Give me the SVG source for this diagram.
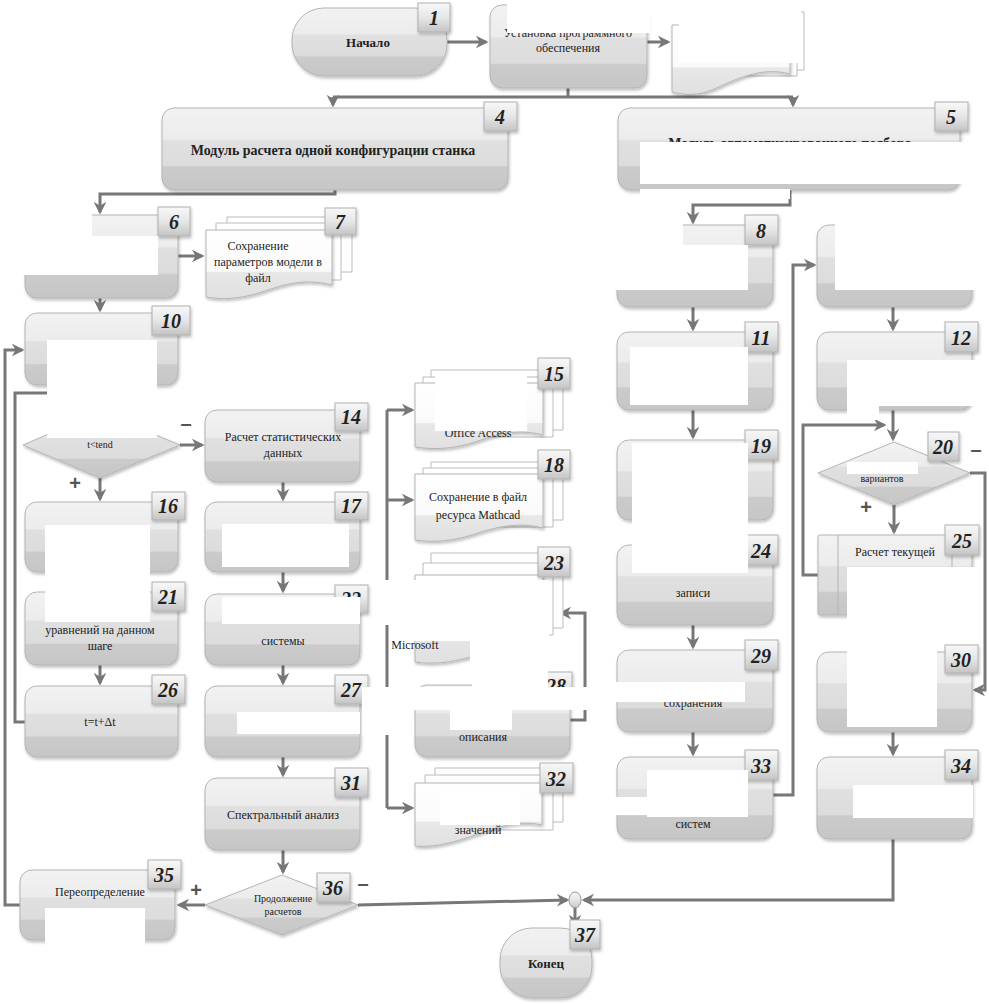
<svg xmlns="http://www.w3.org/2000/svg" width="989" height="1004" viewBox="0 0 989 1004">
<defs>
<linearGradient id="gn" x1="0" y1="0" x2="0" y2="1">
<stop offset="0" stop-color="#f2f2f2"/><stop offset="0.38" stop-color="#ececec"/><stop offset="0.4" stop-color="#e0e0e0"/><stop offset="0.7" stop-color="#dcdcdc"/><stop offset="0.72" stop-color="#cbcbcb"/><stop offset="1" stop-color="#c6c6c6"/>
</linearGradient>
<linearGradient id="gb" x1="0" y1="0" x2="0" y2="1">
<stop offset="0" stop-color="#f8f8f8"/><stop offset="0.5" stop-color="#e6e6e6"/><stop offset="1" stop-color="#c4c4c4"/>
</linearGradient>
<linearGradient id="gd" x1="0" y1="0" x2="0" y2="1">
<stop offset="0" stop-color="#ffffff"/><stop offset="0.6" stop-color="#fafafa"/><stop offset="0.62" stop-color="#e8e8e8"/><stop offset="1" stop-color="#e0e0e0"/>
</linearGradient>
<marker id="ar" viewBox="0 0 10 10" refX="8" refY="5" markerWidth="4.2" markerHeight="4.2" orient="auto" markerUnits="strokeWidth">
<path d="M0,0 L10,5 L0,10 L3,5 Z" fill="#777"/>
</marker>
<filter id="sh" x="-10%" y="-10%" width="130%" height="130%"><feDropShadow dx="1" dy="2" stdDeviation="1.5" flood-color="#000" flood-opacity="0.25"/></filter>
</defs>
<style>
.n{fill:url(#gn);stroke:#b4b4b4;stroke-width:1;filter:url(#sh)}
.b{fill:url(#gb);stroke:#b0b0b0;stroke-width:1;filter:url(#sh)}
.bt{font-family:"Liberation Serif","DejaVu Serif",serif;font-weight:bold;font-style:italic;font-size:20px;fill:#222;text-anchor:middle}
.t{font-family:"Liberation Serif","DejaVu Serif",serif;font-size:12px;fill:#222;text-anchor:middle}
.tb{font-family:"Liberation Serif","DejaVu Serif",serif;font-size:13px;font-weight:bold;fill:#222;text-anchor:middle}
.tl{font-family:"Liberation Serif","DejaVu Serif",serif;font-size:14px;font-weight:bold;fill:#222;text-anchor:middle}
.ts{font-family:"Liberation Serif","DejaVu Serif",serif;font-size:10px;fill:#222;text-anchor:middle}
.pm{font-family:"Liberation Sans",sans-serif;font-size:20px;font-weight:bold;fill:#555;text-anchor:middle}
.s{fill:#fff;stroke:#bbb;stroke-width:1}
.d{fill:url(#gd);stroke:#b4b4b4;stroke-width:1;filter:url(#sh)}
.c{fill:none;stroke:#777;stroke-width:3}
.m{fill:#fff}
</style>

<g id="connectors">
<path class="c" d="M447,42 H486" marker-end="url(#ar)"/>
<path class="c" d="M647,42 H668" marker-end="url(#ar)"/>
<path class="c" d="M568,88 V97"/>
<path class="c" d="M333,97 H793"/>
<path class="c" d="M333,97 V105" marker-end="url(#ar)"/>
<path class="c" d="M793,97 V105" marker-end="url(#ar)"/>
<path class="c" d="M335,190 V194 H100 V212" marker-end="url(#ar)"/>
<path class="c" d="M790,190 V205 H693 V222" marker-end="url(#ar)"/>
<path class="c" d="M178,256 H202" marker-end="url(#ar)"/>
<path class="c" d="M100,298 V310" marker-end="url(#ar)"/>
<path class="c" d="M20,905 H5 V350 H22" marker-end="url(#ar)"/>
<path class="c" d="M25,722 H15 V393 H50"/>
<path class="c" d="M180,445 H202" marker-end="url(#ar)"/>
<path class="c" d="M100,478 V499" marker-end="url(#ar)"/>
<path class="c" d="M283,482 V499" marker-end="url(#ar)"/>
<path class="c" d="M100,572 V589" marker-end="url(#ar)"/>
<path class="c" d="M283,572 V591" marker-end="url(#ar)"/>
<path class="c" d="M100,665 V683" marker-end="url(#ar)"/>
<path class="c" d="M283,665 V683" marker-end="url(#ar)"/>
<path class="c" d="M283,757 V775" marker-end="url(#ar)"/>
<path class="c" d="M283,850 V872" marker-end="url(#ar)"/>
<path class="c" d="M205,905 H179" marker-end="url(#ar)"/>
<path class="c" d="M358,905 L567,900" marker-end="url(#ar)"/>
<path class="c" d="M893,838 V900 H584" marker-end="url(#ar)"/>
<path class="c" d="M575,907 V925" marker-end="url(#ar)"/>
<path class="c" d="M387,410 V808"/>
<path class="c" d="M387,410 H412" marker-end="url(#ar)"/>
<path class="c" d="M387,500 H412" marker-end="url(#ar)"/>
<path class="c" d="M387,808 H412" marker-end="url(#ar)"/>
<path class="c" d="M570,720 H585 V613 H561" marker-end="url(#ar)"/>
<path class="c" d="M693,307 V329" marker-end="url(#ar)"/>
<path class="c" d="M693,410 V437" marker-end="url(#ar)"/>
<path class="c" d="M693,520 V542" marker-end="url(#ar)"/>
<path class="c" d="M693,625 V647" marker-end="url(#ar)"/>
<path class="c" d="M693,732 V754" marker-end="url(#ar)"/>
<path class="c" d="M773,795 H793 V265 H814" marker-end="url(#ar)"/>
<path class="c" d="M893,307 V329" marker-end="url(#ar)"/>
<path class="c" d="M893,410 V439" marker-end="url(#ar)"/>
<path class="c" d="M818,575 H803 V425 H884" marker-end="url(#ar)"/>
<path class="c" d="M894,505 V532" marker-end="url(#ar)"/>
<path class="c" d="M970,473 H985 V690 H975" marker-end="url(#ar)"/>
<path class="c" d="M893,732 V754" marker-end="url(#ar)"/>
<rect x="683" y="185" width="152" height="4" fill="#888"/>
</g>

<g id="n1"><rect class="n" x="292" y="8" width="155" height="68" rx="32"/><rect class="b" x="418" y="3" width="32" height="29"/><text class="bt" x="434" y="25">1</text><text class="tb" x="368" y="47">Начало</text></g>
<g id="n2"><rect class="n" x="490" y="5" width="157" height="83" rx="12"/><text class="t" x="568" y="37">Установка программного</text><text class="t" x="568" y="52">обеспечения</text></g>
<g id="n3"><path class="s" d="M690,12 H804 V70 H690 Z"/><path class="s" d="M681,18 H797 V76 H681 Z"/><path class="d" d="M672,25 H790 V74 C760,66 735,80 712,90 C697,96 684,95 672,92 Z"/></g>
<g id="n4"><rect class="n" x="162" y="108" width="346" height="82" rx="12"/><rect class="b" x="484" y="102" width="33" height="29"/><text class="bt" x="500" y="124">4</text><text class="tl" x="333" y="155">Модуль расчета одной конфигурации станка</text></g>
<g id="n5"><rect class="n" x="618" y="108" width="342" height="82" rx="12"/><rect class="b" x="935" y="102" width="33" height="29"/><text class="bt" x="951" y="124">5</text><text class="tl" x="790" y="148">Модуль автоматизированного подбора</text></g>
<g id="n6"><rect class="n" x="25" y="215" width="153" height="83" rx="12"/><rect class="b" x="158" y="207" width="32" height="29"/><text class="bt" x="174" y="229">6</text></g>
<g id="n7"><path class="s" d="M227,217 H352 V272 H227 Z"/><path class="s" d="M216,223 H341 V280 H216 Z"/><path class="d" d="M206,230 H332 V285 C305,278 285,284 262,292 C240,299 222,300 206,297 Z"/><rect class="b" x="325" y="208" width="31" height="27"/><text class="bt" x="340" y="229">7</text><text class="t" x="258" y="250">Сохранение</text><text class="t" x="268" y="266">параметров модели в</text><text class="t" x="258" y="282">файл</text></g>
<g id="n10"><rect class="n" x="25" y="313" width="153" height="72" rx="12"/><rect class="b" x="152" y="306" width="38" height="29"/><text class="bt" x="171" y="328">10</text></g>
<g id="n13"><path class="n" d="M23,445 L100,412 L180,445 L100,478 Z"/><text class="ts" x="100" y="448">t&lt;tend</text></g>
<g id="n14"><rect class="n" x="205" y="410" width="155" height="72" rx="12"/><rect class="b" x="335" y="403" width="33" height="28"/><text class="bt" x="351" y="424">14</text><text class="t" x="283" y="441">Расчет статистических</text><text class="t" x="283" y="457">данных</text></g>
<g id="n15"><path class="s" d="M431,370 H563 V430 H431 Z"/><path class="s" d="M423,377 H553 V437 H423 Z"/><path class="d" d="M415,383 H543 V435 C520,429 500,433 478,441 C455,449 435,450 415,447 Z"/><rect class="b" x="538" y="358" width="32" height="31"/><text class="bt" x="554" y="381">15</text><text class="t" x="478" y="437">Office Access</text></g>
<g id="n16"><rect class="n" x="25" y="502" width="153" height="70" rx="12"/><rect class="b" x="152" y="492" width="33" height="28"/><text class="bt" x="168" y="513">16</text></g>
<g id="n17"><rect class="n" x="205" y="502" width="155" height="70" rx="12"/><rect class="b" x="335" y="492" width="33" height="28"/><text class="bt" x="351" y="513">17</text></g>
<g id="n18"><path class="s" d="M431,462 H563 V520 H431 Z"/><path class="s" d="M423,468 H553 V527 H423 Z"/><path class="d" d="M415,474 H543 V528 C520,522 500,526 478,533 C455,541 435,543 415,540 Z"/><rect class="b" x="538" y="450" width="32" height="29"/><text class="bt" x="554" y="472">18</text><text class="t" x="478" y="501">Сохранение в файл</text><text class="t" x="478" y="519">ресурса Mathcad</text></g>
<g id="n23"><path class="s" d="M431,553 H563 V628 H431 Z"/><path class="s" d="M423,563 H553 V635 H423 Z"/><path class="d" d="M415,575 H543 V650 C520,645 500,649 478,655 C455,662 435,665 415,662 Z"/><rect class="b" x="538" y="547" width="32" height="30"/><text class="bt" x="554" y="570">23</text><text class="t" x="415" y="649" text-anchor="start">Microsoft</text></g>
<g id="n21"><rect class="n" x="25" y="592" width="153" height="73" rx="12"/><rect class="b" x="152" y="582" width="33" height="29"/><text class="bt" x="168" y="604">21</text><text class="t" x="100" y="634">уравнений на данном</text><text class="t" x="100" y="650">шаге</text></g>
<g id="n22"><rect class="n" x="205" y="594" width="155" height="71" rx="12"/><rect class="b" x="335" y="585" width="33" height="28"/><text class="bt" x="351" y="606">22</text><text class="t" x="283" y="645">системы</text></g>
<g id="n26"><rect class="n" x="25" y="686" width="153" height="71" rx="12"/><rect class="b" x="152" y="675" width="33" height="29"/><text class="bt" x="168" y="697">26</text><text class="t" x="100" y="726">t=t+Δt</text></g>
<g id="n27"><rect class="n" x="205" y="686" width="155" height="71" rx="12"/><rect class="b" x="335" y="675" width="33" height="29"/><text class="bt" x="351" y="697">27</text></g>
<g id="n28"><rect class="n" x="415" y="685" width="155" height="72" rx="12"/><rect class="b" x="540" y="672" width="32" height="28"/><text class="bt" x="556" y="693">28</text><text class="t" x="483" y="741">описания</text></g>
<g id="n31"><rect class="n" x="205" y="778" width="155" height="72" rx="12"/><rect class="b" x="335" y="768" width="33" height="29"/><text class="bt" x="351" y="790">31</text><text class="t" x="283" y="819">Спектральный анализ</text></g>
<g id="n32"><path class="s" d="M435,768 H563 V822 H435 Z"/><path class="s" d="M425,775 H553 V830 H425 Z"/><path class="d" d="M415,783 H542 V825 C520,820 500,826 478,834 C455,842 435,848 415,846 Z"/><rect class="b" x="540" y="763" width="33" height="30"/><text class="bt" x="556" y="786">32</text><text class="t" x="478" y="834">значений</text></g>
<g id="n35"><rect class="n" x="20" y="870" width="155" height="70" rx="12"/><rect class="b" x="148" y="860" width="33" height="29"/><text class="bt" x="164" y="882">35</text><text class="t" x="100" y="896">Переопределение</text></g>
<g id="n36"><path class="n" d="M205,905 L282,875 L358,905 L282,935 Z"/><rect class="b" x="317" y="873" width="33" height="29"/><text class="bt" x="333" y="895">36</text><text class="ts" x="283" y="902">Продолжение</text><text class="ts" x="283" y="915">расчетов</text></g>
<g id="n37"><rect class="n" x="500" y="928" width="92" height="70" rx="32"/><rect class="b" x="570" y="920" width="30" height="29"/><text class="bt" x="585" y="942">37</text><text class="tb" x="546" y="968">Конец</text></g>
<g id="merge"><ellipse cx="575" cy="900" rx="6" ry="8" fill="url(#gb)" stroke="#999"/></g>
<g id="n8"><rect class="n" x="617" y="225" width="156" height="82" rx="12"/><rect class="b" x="745" y="215" width="33" height="30"/><text class="bt" x="761" y="238">8</text></g>
<g id="n9"><rect class="n" x="817" y="225" width="155" height="82" rx="12"/></g>
<g id="n11"><rect class="n" x="617" y="332" width="156" height="78" rx="12"/><rect class="b" x="745" y="322" width="33" height="30"/><text class="bt" x="761" y="345">11</text></g>
<g id="n12"><rect class="n" x="817" y="332" width="155" height="78" rx="12"/><rect class="b" x="945" y="322" width="33" height="30"/><text class="bt" x="961" y="345">12</text></g>
<g id="n19"><rect class="n" x="617" y="440" width="156" height="80" rx="12"/><rect class="b" x="745" y="430" width="33" height="30"/><text class="bt" x="761" y="453">19</text></g>
<g id="n20"><path class="n" d="M818,473 L894,442 L970,473 L894,505 Z"/><rect class="b" x="928" y="432" width="31" height="29"/><text class="bt" x="943" y="454">20</text></g>
<g id="n24"><rect class="n" x="617" y="545" width="156" height="80" rx="12"/><rect class="b" x="745" y="535" width="33" height="30"/><text class="bt" x="761" y="558">24</text><text class="t" x="693" y="597">записи</text></g>
<g id="n25"><rect class="n" x="818" y="535" width="154" height="80" rx="2"/><path d="M838,535 V615 M952,535 V615" stroke="#b4b4b4" fill="none"/><rect class="b" x="945" y="525" width="34" height="30"/><text class="bt" x="962" y="548">25</text><text class="t" x="895" y="556">Расчет текущей</text></g>
<g id="n29"><rect class="n" x="617" y="650" width="156" height="82" rx="12"/><rect class="b" x="745" y="640" width="33" height="30"/><text class="bt" x="761" y="663">29</text><text class="t" x="693" y="707">сохранения</text></g>
<g id="n30"><rect class="n" x="817" y="652" width="155" height="80" rx="12"/><rect class="b" x="945" y="645" width="33" height="28"/><text class="bt" x="961" y="667">30</text></g>
<g id="n33"><rect class="n" x="617" y="757" width="156" height="82" rx="12"/><rect class="b" x="745" y="750" width="33" height="30"/><text class="bt" x="761" y="773">33</text><text class="t" x="693" y="828">систем</text></g>
<g id="n34"><rect class="n" x="817" y="757" width="155" height="82" rx="12"/><rect class="b" x="945" y="750" width="33" height="30"/><text class="bt" x="961" y="773">34</text></g>

<g id="labels">
<text class="pm" x="186" y="430">–</text>
<text class="pm" x="75" y="490">+</text>
<text class="pm" x="976" y="456">–</text>
<text class="pm" x="866" y="514">+</text>
<text class="pm" x="196" y="897">+</text>
<text class="pm" x="363" y="890">–</text>
</g>

<g id="masks">
<rect class="m" x="507" y="0" width="143" height="33"/>
<rect class="m" x="679" y="0" width="122" height="63"/>
<rect class="m" x="640" y="142" width="325" height="42"/>
<rect class="m" x="640" y="189" width="150" height="10"/>
<rect class="m" x="18" y="200" width="74" height="75"/>
<rect class="m" x="92" y="236" width="66" height="39"/>
<rect class="m" x="47" y="340" width="110" height="98"/>
<rect class="m" x="45" y="525" width="105" height="97"/>
<rect class="m" x="222" y="524" width="127" height="43"/>
<rect class="m" x="222" y="597" width="138" height="27"/>
<rect class="m" x="237" y="712" width="123" height="22"/>
<rect class="m" x="45" y="908" width="100" height="40"/>
<rect class="m" x="435" y="375" width="92" height="56"/>
<rect class="m" x="413" y="580" width="136" height="61"/>
<rect class="m" x="380" y="580" width="33" height="45"/>
<rect class="m" x="470" y="641" width="80" height="25"/>
<rect class="m" x="362" y="687" width="238" height="23"/>
<rect class="m" x="362" y="710" width="52" height="25"/>
<rect class="m" x="472" y="668" width="76" height="20"/>
<rect class="m" x="450" y="710" width="62" height="20"/>
<rect class="m" x="440" y="790" width="80" height="35"/>
<rect class="m" x="610" y="220" width="73" height="25"/>
<rect class="m" x="610" y="245" width="138" height="45"/>
<rect class="m" x="835" y="220" width="150" height="70"/>
<rect class="m" x="630" y="347" width="118" height="58"/>
<rect class="m" x="847" y="360" width="130" height="46"/>
<rect class="m" x="847" y="406" width="32" height="14"/>
<rect class="m" x="847" y="462" width="71" height="12"/>
<rect class="m" x="632" y="443" width="116" height="130"/>
<rect class="m" x="847" y="567" width="130" height="55"/>
<rect class="m" x="612" y="682" width="133" height="20"/>
<rect class="m" x="847" y="648" width="90" height="79"/>
<rect class="m" x="647" y="770" width="101" height="47"/>
<rect class="m" x="615" y="797" width="32" height="18"/>
<rect class="m" x="853" y="785" width="120" height="33"/>
</g>
<text class="ts" x="882" y="482">вариантов</text>
</svg>
